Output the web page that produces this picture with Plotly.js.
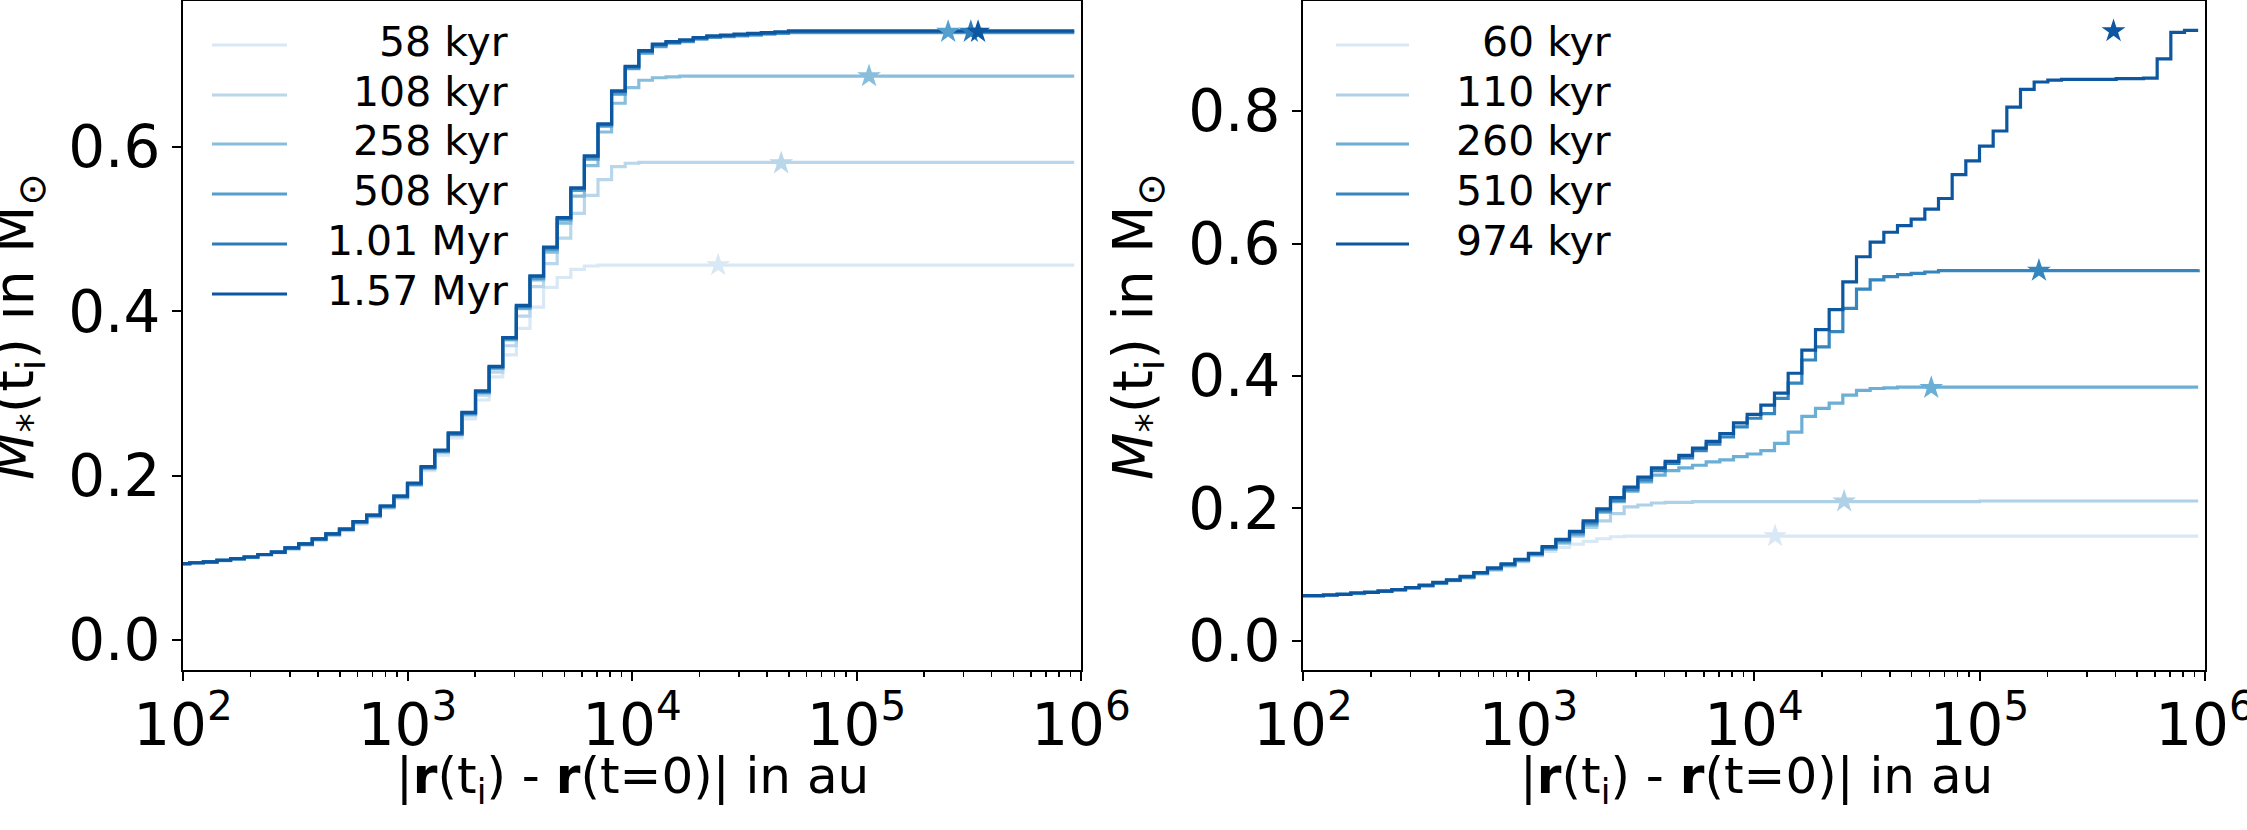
<!DOCTYPE html>
<html>
<head>
<meta charset="utf-8">
<script src="https://cdn.plot.ly/plotly-3.0.1.min.js"></script>
<style>html,body{margin:0;padding:0;background:#fff;}#chart{width:2247px;height:830px;}</style>
</head>
<body>
<div id="chart"></div>
<script>
// Bin edges: |r(t_i) - r(t=0)| in au
const radiusAu = [93.3,107.2,123.3,141.7,162.9,187.4,215.4,247.7,284.8,327.5,376.5,432.9,497.7,572.2,657.9,756.5,869.7,
  1000,1150,1322,1520,1748,2009,2310,2656,3054,3511,4037,4642,5337,6136,7055,8111,9326,
  10723,12328,14175,16298,18738,21544,24771,28480,32745,37649,43288,49770,57224,65793,75646,86975,
  100000,114976,132194,151991,174753,200923,231013,265609,305386,351119,403702,464159,533670,613591,705480,811131,932603];

// Left panel: M_*(t_i) in Msun
const leftLabels = ['58 kyr','108 kyr','258 kyr','508 kyr','1.01 Myr','1.57 Myr'];
const left58 = [0.093,0.094,0.095,0.096,0.098,0.100,0.103,0.106,0.110,0.115,0.121,0.127,0.133,0.141,0.149,0.160,0.172,
  0.188,0.206,0.225,0.246,0.269,0.292,0.320,0.347,0.379,0.405,0.429,0.441,0.451,0.455,0.456,0.456,0.456,
  0.456,0.456,0.456,0.456,0.456,0.456,0.456,0.456,0.456,0.456,0.456,0.456,0.456,0.456,0.456,0.456,
  0.456,0.456,0.456,0.456,0.456,0.456,0.456,0.456,0.456,0.456,0.456,0.456,0.456,0.456,0.456,0.456,0.456];
const left108 = [0.093,0.094,0.095,0.097,0.098,0.101,0.103,0.107,0.111,0.116,0.122,0.128,0.134,0.142,0.150,0.161,0.173,
  0.189,0.208,0.228,0.249,0.273,0.298,0.326,0.358,0.394,0.430,0.458,0.489,0.519,0.541,0.560,0.576,0.580,
  0.581,0.581,0.581,0.581,0.581,0.581,0.581,0.581,0.581,0.581,0.581,0.581,0.581,0.581,0.581,0.581,
  0.581,0.581,0.581,0.581,0.581,0.581,0.581,0.581,0.581,0.581,0.581,0.581,0.581,0.581,0.581,0.581,0.581];
const left258 = [0.093,0.094,0.095,0.097,0.099,0.101,0.104,0.107,0.111,0.116,0.122,0.128,0.134,0.143,0.151,0.162,0.174,
  0.190,0.210,0.230,0.251,0.275,0.301,0.330,0.365,0.403,0.438,0.472,0.507,0.540,0.577,0.618,0.653,0.672,
  0.681,0.684,0.685,0.686,0.686,0.686,0.686,0.686,0.686,0.686,0.686,0.686,0.686,0.686,0.686,0.686,
  0.686,0.686,0.686,0.686,0.686,0.686,0.686,0.686,0.686,0.686,0.686,0.686,0.686,0.686,0.686,0.686,0.686];
const left508 = [0.093,0.094,0.095,0.097,0.099,0.101,0.104,0.107,0.112,0.117,0.123,0.129,0.135,0.143,0.151,0.162,0.174,
  0.189,0.209,0.229,0.250,0.275,0.301,0.331,0.366,0.404,0.440,0.475,0.511,0.547,0.585,0.625,0.664,0.695,
  0.714,0.722,0.726,0.728,0.731,0.733,0.734,0.735,0.736,0.737,0.738,0.739,0.739,0.739,0.739,0.739,
  0.739,0.739,0.739,0.739,0.739,0.739,0.739,0.739,0.739,0.739,0.739,0.739,0.739,0.739,0.739,0.739,0.739];
const left101 = [0.093,0.094,0.095,0.097,0.099,0.101,0.104,0.107,0.112,0.117,0.123,0.129,0.135,0.144,0.152,0.163,0.175,
  0.190,0.210,0.230,0.251,0.276,0.302,0.332,0.367,0.406,0.442,0.477,0.513,0.549,0.588,0.627,0.667,0.697,
  0.716,0.724,0.727,0.729,0.732,0.734,0.735,0.736,0.737,0.738,0.739,0.740,0.740,0.740,0.740,0.740,
  0.740,0.740,0.740,0.740,0.740,0.740,0.740,0.740,0.740,0.740,0.740,0.740,0.740,0.740,0.740,0.740,0.740];
const left157 = [0.093,0.094,0.095,0.097,0.099,0.101,0.104,0.107,0.112,0.117,0.123,0.129,0.135,0.144,0.152,0.163,0.175,
  0.191,0.211,0.231,0.252,0.277,0.303,0.333,0.368,0.407,0.443,0.478,0.514,0.550,0.589,0.628,0.668,0.698,
  0.717,0.725,0.728,0.730,0.733,0.735,0.736,0.737,0.738,0.739,0.740,0.741,0.741,0.741,0.741,0.741,
  0.741,0.741,0.741,0.741,0.741,0.741,0.741,0.741,0.741,0.741,0.741,0.741,0.741,0.741,0.741,0.741,0.741];
const leftStarR = [24200, 46200, 113700, 256000, 323000, 348000];
const leftStarM = [0.456, 0.580, 0.686, 0.740, 0.740, 0.740];

// Right panel
const rightLabels = ['60 kyr','110 kyr','260 kyr','510 kyr','974 kyr'];
const right60 = [0.068,0.068,0.069,0.070,0.071,0.073,0.074,0.076,0.079,0.082,0.086,0.090,0.094,0.100,0.106,0.112,0.119,
  0.128,0.135,0.141,0.146,0.150,0.154,0.157,0.158,0.158,0.158,0.158,0.158,0.158,0.158,0.158,0.158,0.158,
  0.158,0.158,0.158,0.158,0.158,0.158,0.158,0.158,0.158,0.158,0.158,0.158,0.158,0.158,0.158,0.158,
  0.158,0.158,0.158,0.158,0.158,0.158,0.158,0.158,0.158,0.158,0.158,0.158,0.158,0.158,0.158,0.158,0.158];
const right110 = [0.068,0.068,0.069,0.070,0.071,0.073,0.075,0.077,0.080,0.083,0.087,0.091,0.095,0.101,0.107,0.113,0.120,
  0.129,0.138,0.147,0.158,0.171,0.181,0.192,0.202,0.205,0.208,0.209,0.209,0.210,0.210,0.210,0.210,0.210,
  0.210,0.210,0.210,0.210,0.210,0.210,0.210,0.210,0.210,0.210,0.210,0.210,0.210,0.210,0.210,0.210,
  0.211,0.211,0.211,0.211,0.211,0.211,0.211,0.211,0.211,0.211,0.211,0.211,0.211,0.211,0.211,0.211,0.211];
const right260 = [0.068,0.068,0.069,0.070,0.072,0.073,0.075,0.077,0.080,0.083,0.087,0.091,0.096,0.102,0.108,0.114,0.121,
  0.130,0.139,0.149,0.160,0.175,0.194,0.210,0.226,0.240,0.250,0.257,0.261,0.265,0.270,0.273,0.278,0.282,
  0.287,0.298,0.315,0.339,0.351,0.359,0.371,0.378,0.381,0.382,0.383,0.383,0.383,0.383,0.383,0.383,
  0.383,0.383,0.383,0.383,0.383,0.383,0.383,0.383,0.383,0.383,0.383,0.383,0.383,0.383,0.383,0.383,0.383];
const right510 = [0.068,0.068,0.069,0.070,0.072,0.073,0.075,0.077,0.080,0.083,0.087,0.091,0.096,0.102,0.109,0.115,0.122,
  0.131,0.141,0.151,0.163,0.178,0.196,0.212,0.228,0.243,0.257,0.268,0.276,0.287,0.297,0.308,0.323,0.336,
  0.343,0.366,0.389,0.424,0.444,0.467,0.502,0.531,0.545,0.550,0.553,0.555,0.557,0.559,0.559,0.559,
  0.559,0.559,0.559,0.559,0.559,0.559,0.559,0.559,0.559,0.559,0.559,0.559,0.559,0.559,0.559,0.559,0.561];
const right974 = [0.068,0.068,0.069,0.070,0.072,0.073,0.075,0.077,0.080,0.084,0.088,0.092,0.097,0.103,0.110,0.116,0.123,
  0.132,0.142,0.153,0.165,0.181,0.199,0.216,0.232,0.247,0.261,0.271,0.280,0.291,0.301,0.313,0.329,0.342,
  0.356,0.374,0.404,0.439,0.470,0.500,0.542,0.580,0.602,0.617,0.627,0.637,0.652,0.668,0.704,0.725,
  0.747,0.770,0.806,0.833,0.844,0.847,0.848,0.848,0.848,0.848,0.849,0.849,0.850,0.879,0.919,0.922,0.922];
const rightStarR = [12400, 25100, 61100, 183500, 393000];
const rightStarM = [0.158, 0.2106, 0.382, 0.559, 0.921];

const xTickVals = [1e2, 1e3, 1e4, 1e5, 1e6];
const xTickText = ['10<sup>2</sup>','10<sup>3</sup>','10<sup>4</sup>','10<sup>5</sup>','10<sup>6</sup>'];

// ---- styles ----
const leftColors = ['#d9e8f5','#b9d6ea','#88bedc','#549fcd','#2c7cba','#0d57a1'];
const rightColors = ['#d9e8f5','#aed1e7','#6baed6','#3585bf','#0d57a1'];
const FONT = 'DejaVu Sans, sans-serif';
const W = 2247, H = 830;

const leftSeries = [left58, left108, left258, left508, left101, left157];
const rightSeries = [right60, right110, right260, right510, right974];

const traces = [];
leftSeries.forEach((ys, i) => traces.push({
  x: radiusAu, y: ys, type: 'scatter', mode: 'lines', xaxis: 'x', yaxis: 'y',
  line: {shape: 'hv', width: 3.2, color: leftColors[i]}, name: leftLabels[i], showlegend: false
}));
rightSeries.forEach((ys, i) => traces.push({
  x: radiusAu, y: ys, type: 'scatter', mode: 'lines', xaxis: 'x2', yaxis: 'y2',
  line: {shape: 'hv', width: 3.2, color: rightColors[i]}, name: rightLabels[i], showlegend: false
}));
leftStarR.forEach((r, i) => traces.push({
  x: [r], y: [leftStarM[i]], type: 'scatter', mode: 'markers', xaxis: 'x', yaxis: 'y',
  marker: {symbol: 'star', size: 18, color: leftColors[i], line: {width: 0}}, showlegend: false
}));
rightStarR.forEach((r, i) => traces.push({
  x: [r], y: [rightStarM[i]], type: 'scatter', mode: 'markers', xaxis: 'x2', yaxis: 'y2',
  marker: {symbol: 'star', size: 18, color: rightColors[i], line: {width: 0}}, showlegend: false
}));

const minorVals = [];
for (let e = 2; e < 6; e++) for (let m = 2; m <= 9; m++) minorVals.push(m * Math.pow(10, e));

function xAxis(domain, anchor) {
  return {
    type: 'log', domain: domain, anchor: anchor, range: [2, 6],
    showline: true, linecolor: 'black', linewidth: 2, mirror: true,
    ticks: 'outside', ticklen: 9, tickwidth: 2, tickcolor: 'black',
    tickmode: 'array', tickvals: xTickVals, ticktext: xTickText,
    tickfont: {family: FONT, size: 58, color: 'black'},
    ticklabeloverflow: 'allow', ticklabelstandoff: -6,
    minor: {tickmode: 'array', tickvals: minorVals, ticks: 'outside', ticklen: 5, tickwidth: 1.5, tickcolor: 'black', showgrid: false},
    showgrid: false, zeroline: false
  };
}
function yAxis(range, anchor) {
  return {
    domain: [160/H, 829/H], anchor: anchor, range: range,
    showline: true, linecolor: 'black', linewidth: 2, mirror: true,
    ticks: 'outside', ticklen: 9, tickwidth: 2, tickcolor: 'black',
    tick0: 0, dtick: 0.2, tickformat: '.1f',
    tickfont: {family: FONT, size: 58, color: 'black'},
    ticklabeloverflow: 'allow',
    showgrid: false, zeroline: false
  };
}

const xL = [183/W, 1081/W], xR = [1303/W, 2205/W];
const annotations = [];
const shapes = [];
const rowY = [45, 95, 144, 194, 244, 294];
leftLabels.forEach((t, i) => {
  shapes.push({type: 'line', xref: 'paper', yref: 'paper', x0: 212/W, x1: 287/W, y0: 1 - rowY[i]/H, y1: 1 - rowY[i]/H,
    line: {color: leftColors[i], width: 3.2}});
  annotations.push({xref: 'paper', yref: 'paper', x: 510/W, y: 1 - (rowY[i] - 3)/H, xanchor: 'right', yanchor: 'middle',
    text: t, showarrow: false, font: {family: FONT, size: 41, color: 'black'}});
});
rightLabels.forEach((t, i) => {
  shapes.push({type: 'line', xref: 'paper', yref: 'paper', x0: 1336/W, x1: 1409/W, y0: 1 - rowY[i]/H, y1: 1 - rowY[i]/H,
    line: {color: rightColors[i], width: 3.2}});
  annotations.push({xref: 'paper', yref: 'paper', x: 1613/W, y: 1 - (rowY[i] - 3)/H, xanchor: 'right', yanchor: 'middle',
    text: t, showarrow: false, font: {family: FONT, size: 41, color: 'black'}});
});
const xTitle = '|<b>r</b>(t<sub>i</sub>) - <b>r</b>(t=0)| in au';
const yTitle = '<i>M</i><sub>*</sub>(t<sub>i</sub>) in M<sub>⊙</sub>';
annotations.push({xref: 'paper', yref: 'paper', x: 632/W, y: 1 - 779/H, xanchor: 'center', yanchor: 'middle',
  text: xTitle, showarrow: false, font: {family: FONT, size: 50, color: 'black'}});
annotations.push({xref: 'paper', yref: 'paper', x: 1756/W, y: 1 - 779/H, xanchor: 'center', yanchor: 'middle',
  text: xTitle, showarrow: false, font: {family: FONT, size: 50, color: 'black'}});
annotations.push({xref: 'paper', yref: 'paper', x: 18/W, y: 1 - 327/H, xanchor: 'center', yanchor: 'middle', textangle: -90,
  text: yTitle, showarrow: false, font: {family: FONT, size: 55, color: 'black'}});
annotations.push({xref: 'paper', yref: 'paper', x: 1137/W, y: 1 - 327/H, xanchor: 'center', yanchor: 'middle', textangle: -90,
  text: yTitle, showarrow: false, font: {family: FONT, size: 55, color: 'black'}});

const layout = {
  width: W, height: H, margin: {l: 0, r: 0, t: 0, b: 0},
  paper_bgcolor: 'white', plot_bgcolor: 'white',
  font: {family: FONT, color: 'black'},
  showlegend: false,
  xaxis: xAxis(xL, 'y'), yaxis: yAxis([-0.0365, 0.7774], 'x'),
  xaxis2: xAxis(xR, 'y2'), yaxis2: yAxis([-0.0443, 0.9664], 'x2'),
  annotations: annotations, shapes: shapes
};
Plotly.newPlot('chart', traces, layout, {displayModeBar: false, staticPlot: true});
</script>
</body>
</html>
